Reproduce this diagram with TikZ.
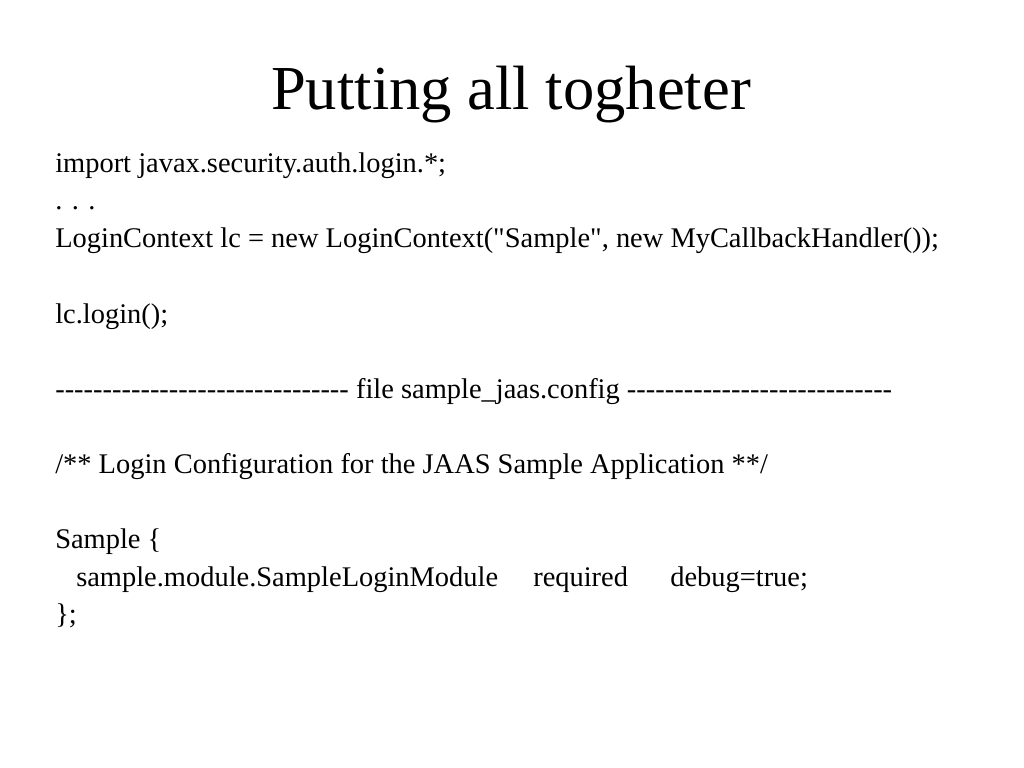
\documentclass[tikz,border=0pt]{standalone}
\usepackage{fontspec}
\setmainfont{Liberation Serif}[Ligatures=TeXOff]

\begin{document}
\begin{tikzpicture}[x=0.703125pt, y=-0.703125pt,
	title/.style={font=\fontsize{44}{44}\selectfont, anchor=base, inner sep=0pt},
	codeline/.style={font=\fontsize{20}{20}\selectfont, anchor=base west, inner sep=0pt}]
	\useasboundingbox[fill=white] (0,0) rectangle (1024,768);

	\node[title] (head) at (511,110) {Putting all togheter};

		%java side
	\node[codeline] (imp) at (55,173) {import javax.security.auth.login.*;};
	\node[codeline] (dots) at (55,210) {. . .};
	\node[codeline] (ctx) at (55,248) {LoginContext lc = new LoginContext("Sample", new MyCallbackHandler());};
	\node[codeline] (call) at (55,323) {lc.login();};

		%config file
	\node[codeline] (sep) at (55,398) {------------------------------- file sample\_jaas.config ----------------------------};
	\node[codeline] (cmt) at (55,473) {/** Login Configuration for the JAAS Sample Application **/};
	\node[codeline] (open) at (55,548) {Sample \{};
	\node[codeline] (modname) at (76,586) {sample.module.SampleLoginModule};
	\node[codeline] (modflag) at (533,586) {required};
	\node[codeline] (modopt) at (670,586) {debug=true;};
	\node[codeline] (close) at (55,623) {\};};
\end{tikzpicture}
\end{document}
